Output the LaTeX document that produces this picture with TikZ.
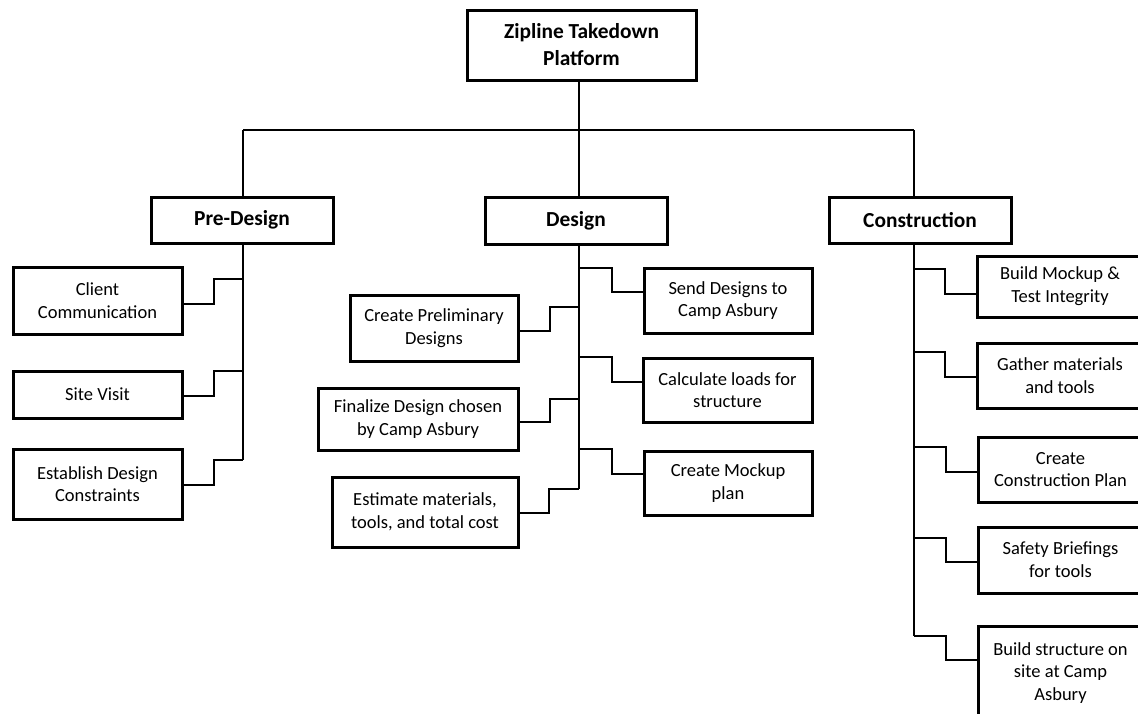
\documentclass[tikz,border=0pt]{standalone}
\usepackage{fontspec}
\setmainfont{Carlito}
\begin{document}
\begin{tikzpicture}[x=1pt,y=-1pt,
  box/.style={draw=black, line width=3pt, fill=white, align=center, inner sep=0pt,
    font=\fontsize{18.5}{22.7}\selectfont},
  head/.style={box, font=\bfseries\fontsize{21.4}{27}\selectfont},
  conn/.style={draw=black, line width=2pt}]
\useasboundingbox (0,0) rectangle (1138,713);
% root and first level
\node[head, minimum width=229pt, minimum height=70pt] (root) at (581.5,45) {Zipline Takedown\\Platform};
\node[head, minimum width=182pt, minimum height=46pt] (pre) at (242,220) {Pre-Design};
\node[head, minimum width=182pt, minimum height=47pt] (des) at (576,220.5) {Design};
\node[head, minimum width=182pt, minimum height=46pt] (con) at (920,220) {Construction};
% pre-design children
\node[box, minimum width=169pt, minimum height=67pt] (client) at (97.5,300.5) {Client\\Communication};
\node[box, minimum width=169pt, minimum height=47pt] (site) at (97.5,394.5) {Site Visit};
\node[box, minimum width=169pt, minimum height=70pt] (estab) at (97.5,484) {Establish Design\\Constraints};
% design children
\node[box, minimum width=168pt, minimum height=65pt] (send) at (728,300.5) {Send Designs to\\Camp Asbury};
\node[box, minimum width=168pt, minimum height=66pt] (prelim) at (434,328) {Create Preliminary\\Designs};
\node[box, minimum width=169pt, minimum height=64pt] (calc) at (727.5,390) {Calculate loads for\\structure};
\node[box, minimum width=200pt, minimum height=62pt] (final) at (418,419) {Finalize Design chosen\\by Camp Asbury};
\node[box, minimum width=168pt, minimum height=64pt] (mock) at (728,483) {Create Mockup\\plan};
\node[box, minimum width=186pt, minimum height=70pt] (estim) at (425,512) {Estimate materials,\\tools, and total cost};
% construction children
\node[box, minimum width=166pt, minimum height=61pt] (bm) at (1060,286.5) {Build Mockup \&\\Test Integrity};
\node[box, minimum width=166pt, minimum height=65pt] (gather) at (1060,375.5) {Gather materials\\and tools};
\node[box, minimum width=165pt, minimum height=65pt] (ccp) at (1060.5,469.5) {Create\\Construction Plan};
\node[box, minimum width=165pt, minimum height=66pt] (safe) at (1060.5,560) {Safety Briefings\\for tools};
\node[box, minimum width=165pt, minimum height=93pt] (bs) at (1060.5,673) {Build structure on\\site at Camp\\Asbury};
% bus
\coordinate (busR) at (579,130);
\coordinate (busL) at (243,130);
\coordinate (busC) at (914,130);
\draw[conn] (root.south -| busR) -- (busR);
\draw[conn] (busL) -- (busC);
\draw[conn] (busL) -- (pre.north -| busL);
\draw[conn] (busR) -- (des.north -| busR);
\draw[conn] (busC) -- (con.north -| busC);
% trunks
\coordinate (p1) at (243,279);
\coordinate (p2) at (243,371);
\coordinate (p3) at (243,460);
\draw[conn] (pre.south -| p1) -- (p3);
\coordinate (d1) at (579,268);
\coordinate (d2) at (579,307);
\coordinate (d3) at (579,357);
\coordinate (d4) at (579,399);
\coordinate (d5) at (579,449);
\coordinate (d6) at (579,489);
\draw[conn] (des.south -| d1) -- (d6);
\coordinate (c1) at (914,269);
\coordinate (c2) at (914,352);
\coordinate (c3) at (914,447);
\coordinate (c4) at (914,538);
\coordinate (c5) at (914,636);
\draw[conn] (con.south -| c1) -- (c5);
% pre-design connectors
\draw[conn] ([yshift=-3.5pt]client.east) -- ++(30,0) |- (p1);
\draw[conn] ([yshift=-1.5pt]site.east) -- ++(30,0) |- (p2);
\draw[conn] ([yshift=-1pt]estab.east) -- ++(30,0) |- (p3);
% design connectors
\draw[conn] (d1) -- ++(33,0) |- ([yshift=8.5pt]send.west);
\draw[conn] ([yshift=-3pt]prelim.east) -- ++(30,0) |- (d2);
\draw[conn] (d3) -- ++(33,0) |- ([yshift=8pt]calc.west);
\draw[conn] ([yshift=-3pt]final.east) -- ++(30,0) |- (d4);
\draw[conn] (d5) -- ++(33,0) |- ([yshift=9pt]mock.west);
\draw[conn] ([yshift=-1pt]estim.east) -- ++(29,0) |- (d6);
% construction connectors
\draw[conn] (c1) -- ++(31,0) |- ([yshift=-7.5pt]bm.west);
\draw[conn] (c2) -- ++(31,0) |- ([yshift=-1.5pt]gather.west);
\draw[conn] (c3) -- ++(32,0) |- ([yshift=-2.5pt]ccp.west);
\draw[conn] (c4) -- ++(32,0) |- ([yshift=-2pt]safe.west);
\draw[conn] (c5) -- ++(32,0) |- ([yshift=13pt]bs.west);
\end{tikzpicture}
\end{document}
